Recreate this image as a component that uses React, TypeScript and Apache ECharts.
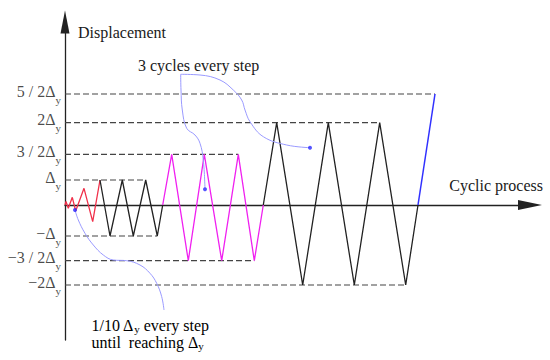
import React, { useEffect, useRef } from 'react';
import * as echarts from 'echarts';

// Reference levels (labels, drawn heights along the displacement axis, where each dashed guide ends)
const levelLabels = ['5 / 2Δ', '2Δ', '3 / 2Δ', 'Δ', '−Δ', '−3 / 2Δ', '−2Δ'];
const levelHeights = [11.1, 8.23, 5.07, 2.5, -3.1, -5.57, -8.0];
const levelEnds = [37, 31.47, 17.33, 8.07, 9.23, 18.93, 34.07];

// Loading history segments [cyclic process, displacement]
const redPath = [[0, 0], [0.1, 0.35], [0.33, -0.33], [0.73, 0.77], [1.07, -0.6], [1.9, 1.67], [2.77, -1.67], [3.5, 2.5]];
const blackSmallPath = [[3.5, 2.5], [4.5, -3.1], [5.73, 2.5], [6.83, -3.1], [8.07, 2.5], [9.23, -3.1], [9.77, 0]];
const magentaPath = [[9.77, 0], [10.67, 5.07], [12.33, -5.57], [13.93, 5.07], [15.67, -5.57], [17.33, 5.07], [18.93, -5.57], [19.83, 0]];
const blackLargePath = [[19.83, 0], [21.17, 8.23], [23.77, -8.0], [26.33, 8.23], [28.93, -8.0], [31.47, 8.23], [34.07, -8.0], [35.3, 0]];
const bluePath = [[35.3, 0], [37, 11.1]];

// Annotation leader curves
const leaderCyclesA = [[11.57, 13.07], [13.5, 13.0], [15.5, 12.5], [16.83, 11.5], [17.67, 10.5], [18.0, 9.5], [18.5, 8.33], [19.83, 6.83], [22.17, 6.0], [24.5, 5.73]];
const leaderCyclesB = [[11.57, 13.07], [11.6, 11.5], [11.73, 9.5], [12.17, 7.67], [13.0, 7.0], [13.5, 6.17], [13.83, 4.5], [14.0, 1.57]];
const leaderSteps = [[1.0, -0.5], [1.33, -1.5], [2.0, -2.83], [2.83, -4.0], [3.83, -5.0], [4.83, -5.5], [6.17, -5.57], [7.5, -6.0], [8.5, -6.83], [9.17, -7.83], [9.67, -9.17], [9.9, -10.5]];
const leaderDots = [[24.5, 5.73], [14.0, 1.57], [1.0, -0.5]];

const xAxisName = 'Cyclic process';
const yAxisName = 'Displacement';
const noteCycles = '3 cycles every step';
const noteStepLine1 = ['1/10 Δ', 'y', ' every step'];
const noteStepLine2 = ['until  reaching Δ', 'y', ''];

const FONT = 'Liberation Serif';
const TEXT = '#1a1a1a';

const levelRich = {
  a: { fontFamily: FONT, fontSize: 16, color: TEXT, lineHeight: 16, verticalAlign: 'top' },
  s: { fontFamily: FONT, fontSize: 11, color: TEXT, lineHeight: 22, verticalAlign: 'top', padding: [11, 0, 0, 0] },
};

const noteRich = {
  a: { fontFamily: FONT, fontSize: 16, color: TEXT, lineHeight: 17, verticalAlign: 'top' },
  s: { fontFamily: FONT, fontSize: 11, color: TEXT, lineHeight: 11, verticalAlign: 'top', padding: [6, 0, 0, 0] },
};

function richLine(parts: string[]) {
  let t = `{a|${parts[0]}}{s|${parts[1]}}`;
  if (parts[2]) t += `{a|${parts[2]}}`;
  return t;
}

export default function App() {
  const ref = useRef<HTMLDivElement>(null);
  useEffect(() => {
    if (!ref.current) return;
    const chart = echarts.init(ref.current, null, { renderer: 'svg' });

    const lineSeries = (data: number[][], color: string, width = 1.3) => ({
      type: 'line', data, symbol: 'none', silent: true, lineStyle: { color, width }, z: 3,
    });

    const dashed = levelHeights.map((h, i) => ({
      type: 'line', data: [[0, h], [levelEnds[i], h]], symbol: 'none', silent: true,
      lineStyle: { color: '#444', width: 1.2, type: [6, 3] }, z: 2,
    }));

    const leader = (data: number[][]) => ({
      type: 'line', data, symbol: 'none', smooth: 0.4, silent: true,
      lineStyle: { color: '#9a9aff', width: 1 }, z: 4,
    });

    chart.setOption({
      animation: false,
      backgroundColor: '#ffffff',
      textStyle: { fontFamily: FONT },
      grid: { left: 65, right: 20, top: 22, bottom: 20, containLabel: false, outerBoundsMode: 'none' },
      xAxis: {
        type: 'value', min: 0, max: 46.5,
        axisLine: { onZero: true, symbol: ['none', 'triangle'], symbolSize: [10, 24], lineStyle: { color: '#222', width: 1.3 } },
        axisTick: { show: false }, axisLabel: { show: false }, splitLine: { show: false },
        name: xAxisName, nameLocation: 'end', nameGap: 13,
        nameTextStyle: { fontFamily: FONT, fontSize: 16, color: TEXT, align: 'right', verticalAlign: 'bottom', padding: [0, 0, 12, 0] },
      },
      yAxis: {
        type: 'value', min: -13.5, max: 18.3,
        axisLine: { onZero: false, symbol: ['none', 'triangle'], symbolSize: [9, 23], lineStyle: { color: '#222', width: 1.3 } },
        axisTick: { show: false }, splitLine: { show: false }, axisLabel: { show: false },
        name: yAxisName, nameLocation: 'end', nameGap: -10,
        nameTextStyle: { fontFamily: FONT, fontSize: 16, color: TEXT, align: 'left', verticalAlign: 'middle', padding: [0, 0, 0, 13] },
      },
      graphic: [
        { type: 'text', x: 138, y: 65, style: { text: noteCycles, fontFamily: FONT, fontSize: 16, fill: TEXT, verticalAlign: 'middle' } },
        {
          type: 'text', x: 91.5, y: 317,
          style: { text: richLine(noteStepLine1) + '\n' + richLine(noteStepLine2), rich: noteRich, verticalAlign: 'top', align: 'left' },
        },
      ],
      series: [
        ...dashed,
        lineSeries(redPath, '#f0304a'),
        lineSeries(blackSmallPath, '#222'),
        lineSeries(magentaPath, '#f020f0'),
        lineSeries(blackLargePath, '#222'),
        lineSeries(bluePath, '#3030ff', 1.5),
        leader(leaderCyclesA), leader(leaderCyclesB), leader(leaderSteps),
        { type: 'scatter', data: leaderDots, symbol: 'circle', symbolSize: 4, silent: true, itemStyle: { color: '#2a2aff' }, z: 5 },
        {
          // level labels anchored at the displacement axis
          type: 'scatter',
          data: levelHeights.map((h) => [0, h]),
          symbolSize: 0,
          silent: true,
          itemStyle: { color: 'transparent' },
          label: {
            show: true,
            position: 'left',
            distance: 4,
            formatter: (p: any) => `{a|${levelLabels[p.dataIndex]}}{s|y}`,
            rich: levelRich,
          },
          z: 6,
        },
      ],
    });
    return () => chart.dispose();
  }, []);
  return <div ref={ref} style={{ position: 'fixed', left: 0, top: 0, width: 550, height: 360 }} />;
}
